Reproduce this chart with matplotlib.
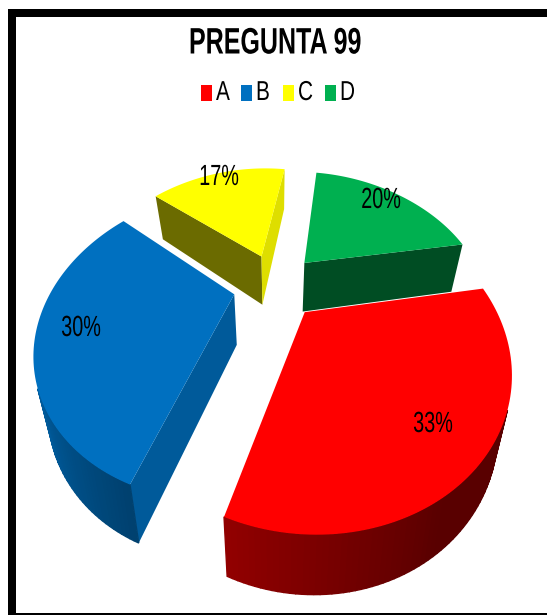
import numpy as np
import matplotlib
matplotlib.use('Agg')
from matplotlib import pyplot as plt
from matplotlib.patches import Polygon, Rectangle
from matplotlib.patheffects import AbstractPathEffect
from matplotlib.transforms import Affine2D

titulo = 'PREGUNTA 99'
categorias = ['A', 'B', 'C', 'D']
valores = [33.1, 29.9, 17, 20]
colores = ['#ff0000', '#0070c0', '#ffff00', '#00b050']
pos_etiquetas = [(433, 424), (81, 328), (219, 177), (381, 200)]
pos_leyenda = [201, 241, 283, 325]

W, H = 547, 615
# proyeccion del pastel
cx, cy = 276, 285
radio = 193
alto = 150
prof = 50
explota = 0.22
arco = 0.935
inicio = 81
fuente = 'Liberation Sans'


class Estrecho(AbstractPathEffect):
    # la fuente Narrow no esta instalada, se angosta el texto en x
    def __init__(self, x0, factor):
        super().__init__()
        self.x0 = x0
        self.factor = factor

    def draw_path(self, renderer, gc, tpath, affine, rgbFace=None):
        extra = Affine2D().translate(-self.x0, 0).scale(self.factor, 1).translate(self.x0, 0)
        renderer.draw_path(gc, tpath, affine + extra, rgbFace)


def proy(u, v, z=0):
    w = 1 + 0.37 * v + 0.08 * v * v
    x = cx + radio * u * w * (1 - 0.06 * z)
    y = cy + alto * v * w + z * prof * (1 + 0.18 * v)
    return x, y


def oscuro(color, f):
    return tuple(np.array(matplotlib.colors.to_rgb(color)) * f)


def area(p):
    x, y = np.array(p).T
    return 0.5 * np.sum(x * np.roll(y, -1) - np.roll(x, -1) * y)


def tono_lado(i, ang):
    if i == 0:
        return 0.35 + 0.22 * np.clip((ang - 150) / 49, 0, 1)
    return 0.57 + 0.28 * np.clip((ang - 199) / 45, 0, 1)


fig = plt.figure(figsize=(W / 100, H / 100), dpi=100)
ax = fig.add_axes([0, 0, 1, 1])
ax.set_xlim(0, W)
ax.set_ylim(H, 0)
ax.axis('off')

# marco
ax.add_patch(Rectangle((7.7, 8.5), W, 8, fc='black', ec='none'))
ax.add_patch(Rectangle((7.7, 8.5), 8, H, fc='black', ec='none'))
ax.add_patch(Rectangle((7.7, 613), W, 3, fc='black', ec='none'))

ax.text(275, 44, titulo, ha='center', va='center', fontsize=26.5, fontweight='bold', family=fuente,
        path_effects=[Estrecho(275, 0.68)])

for cat, col, xl in zip(categorias, colores, pos_leyenda):
    ax.add_patch(Rectangle((xl, 85), 11, 16, fc=col, ec='none'))
    ax.text(xl + 15, 93, cat, ha='left', va='center', fontsize=19.7, family=fuente,
            path_effects=[Estrecho(xl + 15, 0.76)])

angulos = np.cumsum([0] + valores) / sum(valores) * 360 + inicio
tonos_corte = [(0.4, 0.4), (0.8, 0.8), (0.42, 0.87), (0.44, 0.44)]
orden = [3, 2, 1, 0]

for n, i in enumerate(orden):
    a0, a1 = angulos[i], angulos[i + 1]
    medio = np.radians((a0 + a1) / 2)
    ox, oy = explota * np.sin(medio), -explota * np.cos(medio)
    grados = np.linspace(a0, a1, 90)
    th = np.radians(grados)
    us = ox + arco * np.sin(th)
    vs = oy - arco * np.cos(th)
    col = colores[i]
    z = 10 + n * 3

    # caras de corte
    caras = [(us[0], vs[0], tonos_corte[i][0], 1), (us[-1], vs[-1], tonos_corte[i][1], -1)]
    for u1, v1, f, signo in caras:
        p = [proy(ox, oy), proy(u1, v1), proy(u1, v1, 1), proy(ox, oy, 1)]
        if area(p) * signo > 0:
            continue
        ax.add_patch(Polygon(p, closed=True, fc=oscuro(col, f), ec='none', zorder=z))

    # lado exterior
    for k in range(len(th) - 1):
        q = [proy(us[k], vs[k]), proy(us[k + 1], vs[k + 1]), proy(us[k + 1], vs[k + 1], 1), proy(us[k], vs[k], 1)]
        if area(q) > 0:
            continue
        c = oscuro(col, tono_lado(i, grados[k] % 360))
        ax.add_patch(Polygon(q, closed=True, fc=c, ec=c, lw=1, zorder=z + 1))

    # cara de arriba
    tapa = [proy(ox, oy)] + [proy(u, v) for u, v in zip(us, vs)]
    ax.add_patch(Polygon(tapa, closed=True, fc=col, ec='none', zorder=z + 2))

    xe, ye = pos_etiquetas[i]
    ax.text(xe, ye, '%.0f%%' % valores[i], ha='center', va='center', fontsize=21, family=fuente, zorder=50,
            path_effects=[Estrecho(xe, 0.68)])

fig.savefig('out.png', dpi=100)
